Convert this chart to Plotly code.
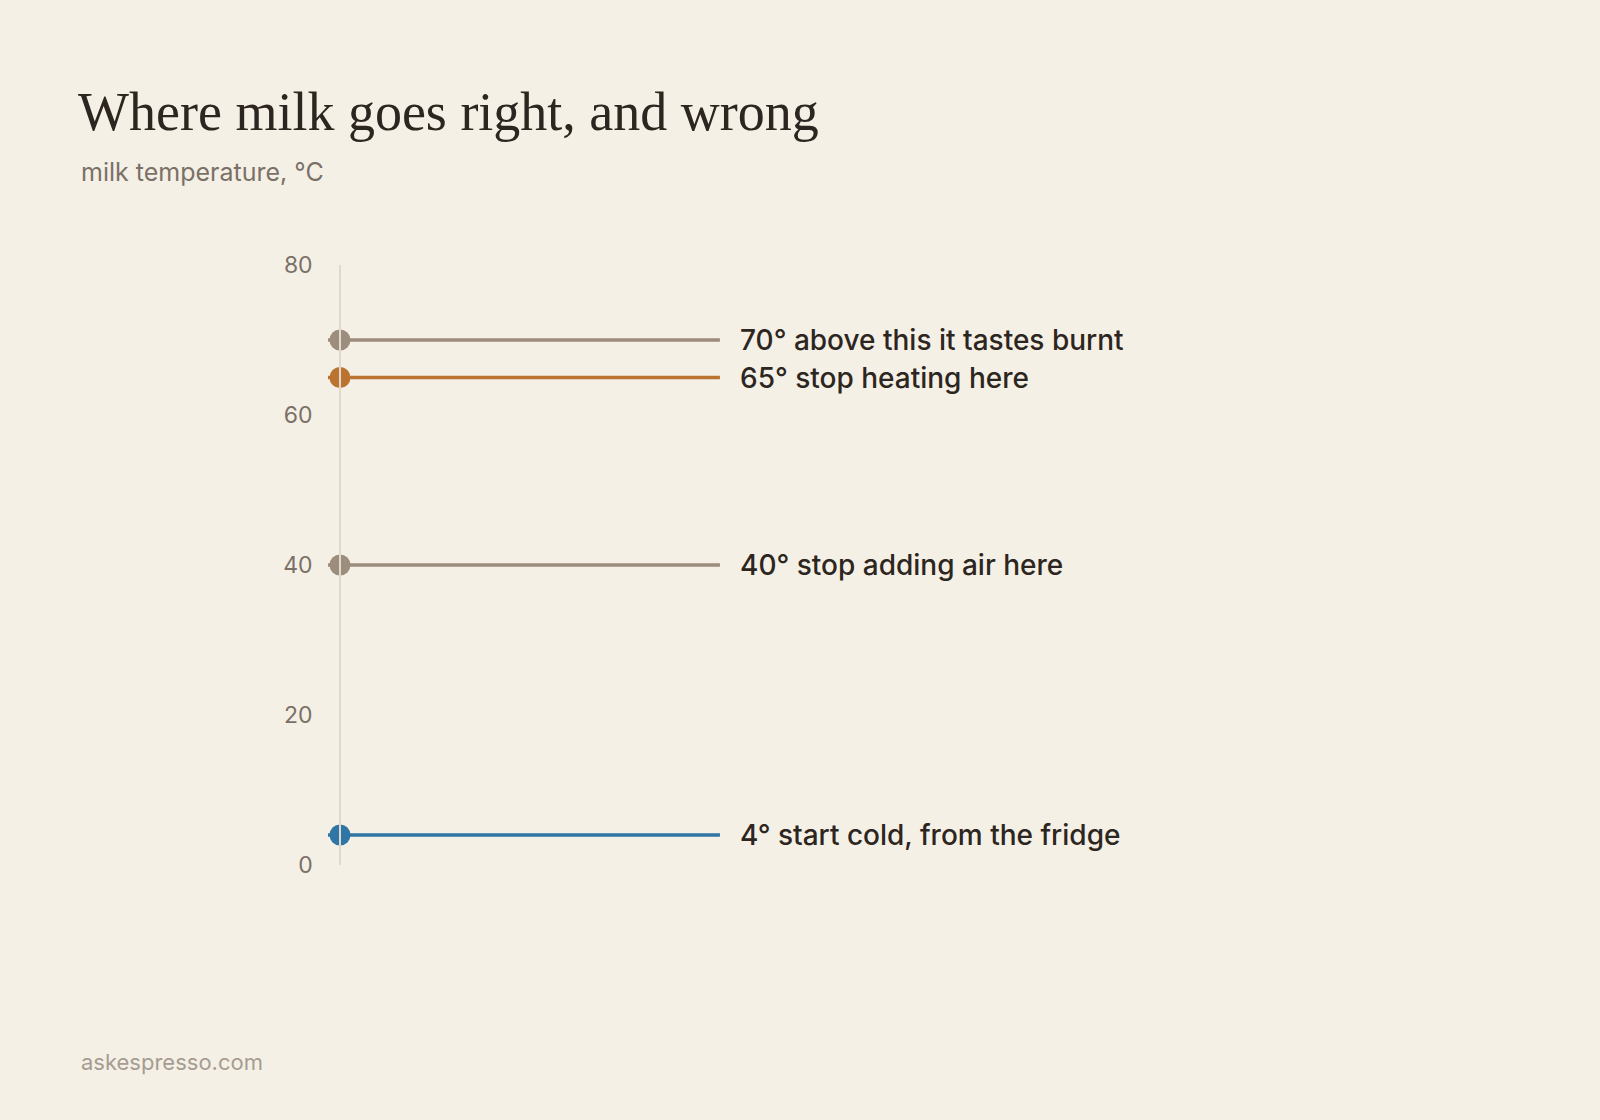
import plotly.graph_objects as go

# milk temperature milestones, top to bottom
temps = [70, 65, 40, 4]
notes = ["above this it tastes burnt", "stop heating here",
         "stop adding air here", "start cold, from the fridge"]
colors = ["#9c8d7c", "#bb7430", "#9c8d7c", "#2f76a5"]
y_ticks = [0, 20, 40, 60, 80]

BG = "#f4f0e6"
INK = "#2d2620"
MUTED = "#7b7067"
SANS = "Inter, 'DejaVu Sans', sans-serif"

fig = go.Figure()

for t, note, c in zip(temps, notes, colors):
    # horizontal rule running out to the label
    fig.add_trace(go.Scatter(
        x=[-0.0316, 1.0], y=[t, t], mode="lines",
        line=dict(color=c, width=3.5), hoverinfo="skip", cliponaxis=False))
    fig.add_trace(go.Scatter(
        x=[0], y=[t], mode="markers",
        marker=dict(color=c, size=21), hoverinfo="skip", cliponaxis=False))
    fig.add_annotation(
        x=1.0, y=t, xref="x", yref="y", text=f"{t}° {note}",
        showarrow=False, xanchor="left", yanchor="middle", xshift=18,
        font=dict(family=SANS, size=28, color=INK, weight=500))

fig.update_layout(
    width=1600, height=1120,
    paper_bgcolor=BG, plot_bgcolor=BG,
    showlegend=False,
    margin=dict(l=100, r=100, t=265, b=255),
    xaxis=dict(range=[-0.6316, 3.053], visible=False, fixedrange=True),
    yaxis=dict(
        range=[0, 80], tickvals=y_ticks, showgrid=False, zeroline=False,
        anchor="free", position=(340 - 100) / 1400,
        showline=True, linecolor="#e0d9cd", linewidth=1.5,
        ticks="outside", ticklen=22, tickcolor="rgba(0,0,0,0)",
        tickfont=dict(family=SANS, size=23, color=MUTED)),
    title=dict(
        text="Where milk goes right, and wrong",
        x=78 / 1600, xanchor="left", xref="container",
        y=1 - 130 / 1120, yanchor="bottom", yref="container",
        font=dict(family="'Liberation Serif', serif", size=54, color=INK)),
)

fig.add_annotation(
    text="milk temperature, °C", xref="paper", yref="paper",
    x=(79 - 100) / 1400, y=1 + (265 - 172) / 600,
    xanchor="left", yanchor="middle", showarrow=False,
    font=dict(family=SANS, size=25, color=MUTED))

fig.add_annotation(
    text="askespresso.com", xref="paper", yref="paper",
    x=(79 - 100) / 1400, y=-(1062 - 865) / 600,
    xanchor="left", yanchor="middle", showarrow=False,
    font=dict(family=SANS, size=22, color="#a69c90"))

fig.write_html("out.html", config={"displayModeBar": False},
               post_script="document.body.style.margin='0';")
